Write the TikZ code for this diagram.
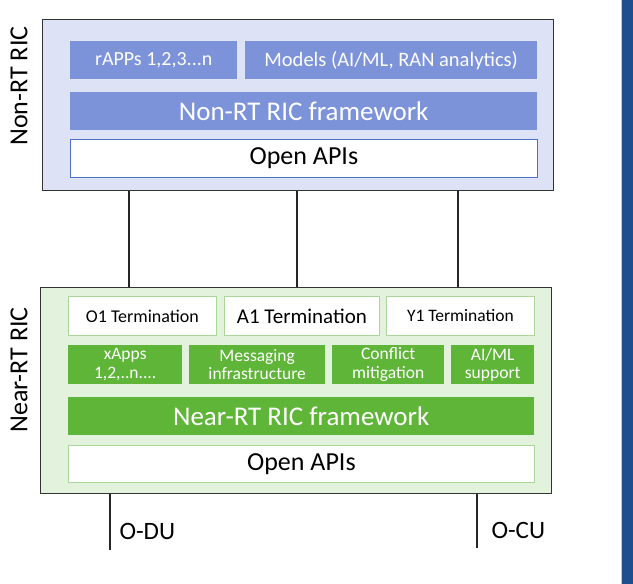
\documentclass[tikz,border=0pt]{standalone}
\usepackage{fontspec}
\setmainfont{Carlito}
\definecolor{nonfill}{HTML}{DDE2F6}
\definecolor{nonbox}{HTML}{7C93DA}
\definecolor{nonapi}{HTML}{4A72C6}
\definecolor{nearfill}{HTML}{E3F2DC}
\definecolor{nearbox}{HTML}{5FB538}
\definecolor{nearline}{HTML}{A9D89A}
\definecolor{sidebar}{HTML}{1E4E8E}
\begin{document}
\begin{tikzpicture}[x=1pt,y=-1pt,
  outer/.style={draw=black!80,line width=1.2pt,anchor=north west,inner sep=0pt},
  bluebox/.style={fill=nonbox,text=white,anchor=north west,inner sep=0pt,align=center},
  greenbox/.style={fill=nearbox,text=white,anchor=north west,inner sep=0pt,align=center,font=\fontsize{17.5}{18.5}\selectfont},
  termbox/.style={fill=white,draw=nearline,line width=0.8pt,anchor=north west,inner sep=0pt},
  link/.style={draw=black!85,line width=1.2pt}]
\useasboundingbox (0,0) rectangle (633,584);
\fill[white] (0,0) rectangle (633,584);
\fill[sidebar] (621,0) rectangle (633,584);
\draw[white!70!sidebar,line width=1pt] (621,0) -- (621,584);
% Non-RT RIC
\node[outer,fill=nonfill,minimum width=511pt,minimum height=171pt] (nonrt) at (42,19) {};
\node[bluebox,minimum width=167pt,minimum height=38pt,font=\fontsize{20}{21}\selectfont] (rapps) at (70,41) {rAPPs 1,2,3...n};
\node[bluebox,minimum width=292pt,minimum height=38pt,font=\fontsize{20.5}{21}\selectfont] (models) at (245,41) {Models (AI/ML, RAN analytics)};
\node[bluebox,minimum width=467pt,minimum height=38pt,font=\fontsize{27}{28}\selectfont] (nonfw) at (70,92) {Non-RT RIC framework};
\node[fill=white,draw=nonapi,line width=0.8pt,anchor=north west,inner sep=0pt,minimum width=467pt,minimum height=38pt,font=\fontsize{26}{27}\selectfont] (nonapis) at (70,139) {Open APIs};
\node[rotate=90,font=\fontsize{26}{27}\selectfont] (nonlbl) at (19,86) {Non-RT RIC};
% Near-RT RIC
\node[outer,fill=nearfill,minimum width=511pt,minimum height=206pt] (nearrt) at (40,287) {};
\node[termbox,minimum width=148pt,minimum height=39pt,font=\fontsize{18}{19}\selectfont] (o1) at (68,296) {O1 Termination};
\node[termbox,minimum width=155pt,minimum height=39pt,font=\fontsize{21}{22}\selectfont] (a1) at (224,296) {A1 Termination};
\node[termbox,minimum width=148pt,minimum height=39pt,font=\fontsize{17.5}{18}\selectfont] (y1) at (386,296) {Y1 Termination};
\node[greenbox,minimum width=114pt,minimum height=39pt] (xapps) at (68,345) {xApps\\1,2,..n....};
\node[greenbox,minimum width=136pt,minimum height=39pt] (msg) at (189,345) {Messaging\\infrastructure};
\node[greenbox,minimum width=112pt,minimum height=39pt] (conf) at (332,345) {Conflict\\mitigation};
\node[greenbox,minimum width=83pt,minimum height=39pt] (aiml) at (451,345) {AI/ML\\support};
\node[greenbox,minimum width=466pt,minimum height=38pt,font=\fontsize{27}{28}\selectfont] (nearfw) at (68,397) {Near-RT RIC framework};
\node[termbox,minimum width=466pt,minimum height=37pt,font=\fontsize{26}{27}\selectfont] (nearapis) at (68,445) {Open APIs};
\node[rotate=90,font=\fontsize{26}{27}\selectfont] (nearlbl) at (19,370) {Near-RT RIC};
% connectors
\draw[link] (nonrt.south west) ++(87,0) coordinate (c1s) -- (c1s |- nearrt.north);
\draw[link] (nonrt.south west) ++(255,0) coordinate (c2s) -- (c2s |- nearrt.north);
\draw[link] (nonrt.south west) ++(416,0) coordinate (c3s) -- (c3s |- nearrt.north);
\coordinate (du) at (110,550);
\coordinate (cu) at (477,548);
\draw[link] (du |- nearrt.south) -- (du);
\draw[link] (cu |- nearrt.south) -- (cu);
\node[anchor=west,font=\fontsize{25}{26}\selectfont] (odu) at (116,531) {O-DU};
\node[anchor=west,font=\fontsize{25}{26}\selectfont] (ocu) at (488,530) {O-CU};
\end{tikzpicture}
\end{document}
